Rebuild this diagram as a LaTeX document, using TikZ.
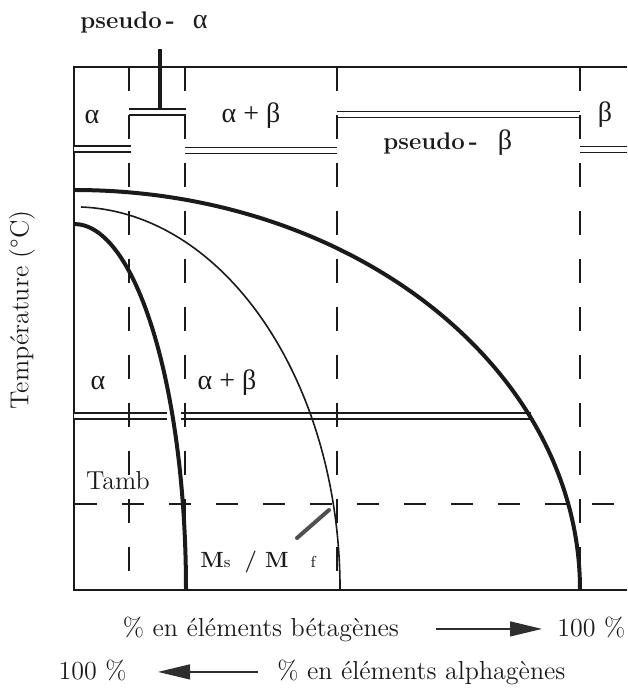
\documentclass[tikz,border=0pt]{standalone}
\usepackage{fontspec}
\newfontfamily\greekfont{Liberation Serif}
\usetikzlibrary{arrows.meta}
\definecolor{inkline}{HTML}{1A1A1A}
\definecolor{arrowink}{HTML}{2E2E2E}
\definecolor{leaderink}{HTML}{505050}
\tikzset{
  frame/.style={draw=inkline, line width=1.1pt},
  guide/.style={draw=inkline, line width=0.9pt, dash pattern=on 12pt off 12pt},
  tamb-line/.style={draw=inkline, line width=0.9pt, dash pattern=on 11pt off 12.5pt},
  phasebar/.style={draw=inkline, line width=0.7pt, double=white, double distance=2.3pt},
  mscurve/.style={draw=inkline, line width=2pt},
  mscurve-thin/.style={draw=inkline, line width=0.8pt},
  phasetext/.style={font=\fontsize{13}{15}\selectfont, inner sep=0pt, text=inkline},
  greektext/.style={font=\fontsize{14}{16}\selectfont\greekfont, inner sep=0pt, text=inkline},
  phasename/.style={phasetext, anchor=west},
  msname/.style={font=\fontsize{11}{13}\selectfont\bfseries, inner sep=0pt, anchor=base west, text=inkline},
  pointer/.style={draw=inkline, line width=1.6pt},
  leader/.style={draw=leaderink, line width=2pt, line cap=round},
  axisarrow/.style={-{Triangle[length=16pt, width=7.5pt]}, draw=arrowink, fill=arrowink, line width=0.6pt}
}

\begin{document}
\begin{tikzpicture}[x=0.5pt, y=-0.5pt]

\useasboundingbox (0,0) rectangle (627,688);

% frame and phase limits
\draw[frame] (627,67) -- (74,67) -- (74,590) -- (627,590);

\draw[phasebar] (74,149) -- (131,149);
\draw[phasebar] (129,112) -- (186,112);
\draw[phasebar] (185,150.5) -- (337,150.5);
\draw[phasebar] (337,114.5) -- (580,114.5);
\draw[phasebar] (580,149.5) -- (627,149.5);

\draw[phasebar] (74,416) -- (167,416);
\draw[phasebar] (181,416) -- (531,416);

\foreach \x in {129,185,337,580}
  \draw[guide] (\x,67) -- (\x,590);

\draw[tamb-line] (75,504) -- (627,504);

% Ms curves
\draw[mscurve] (74,190) arc[start angle=270, end angle=360, x radius=506, y radius=400];
\draw[mscurve-thin] (81,207) arc[start angle=271.5, end angle=360, x radius=266, y radius=383];
\draw[mscurve] (74,224) arc[start angle=270, end angle=360, x radius=112, y radius=366];

% labels
\node[phasename] (pseudoalpha) at (80,23) {{\fontsize{12}{14}\selectfont\bfseries pseudo\,-}\hspace{9pt}{\fontsize{14}{16}\greekfont α}};
\coordinate (pointertop) at (160,49);
\coordinate (pointerfoot) at (160,109);
\draw[pointer] (pointertop) -- (pointerfoot);

\node[greektext] (alphatop) at (92,117) {α};
\node[greektext] (twophasetop) at (251,116) {α + β};
\node[greektext] (betatop) at (605,115) {β};
\node[phasename] (pseudobeta) at (383,143) {{\fontsize{12}{14}\selectfont\bfseries pseudo\,-}\hspace{10pt}{\fontsize{14}{16}\greekfont β}};

\node[greektext] (alphalow) at (98,383) {α};
\node[greektext] (twophaselow) at (227,383) {α + β};
\node[phasetext] (tamb) at (118,481) {Tamb};

\node[msname] (msmf) at (200,567) {M{\fontsize{8}{9}\selectfont\mdseries s}\hspace{7pt}/ M\hspace{11pt}{\fontsize{8}{9}\selectfont\mdseries f}};
\coordinate (leaderfoot) at (297,538);
\coordinate (leadertip) at (329,510);
\draw[leader] (leaderfoot) -- (leadertip);

\node[phasetext, rotate=90] (templabel) at (22,310) {Température (\textdegree C)};

% composition axes
\node[phasetext, anchor=base] (betatext) at (261,636) {\% en éléments bétagènes};
\node[phasetext, anchor=base west] (pctright) at (557,636) {100 \%};
\node[phasetext, anchor=base east] (pctleft) at (127,679) {100 \%};
\node[phasetext, anchor=base west] (alphatext) at (277,679) {\% en éléments alphagènes};

\draw[axisarrow, shorten <=18.5pt, shorten >=7.5pt] (betatext.east) -- (betatext.east -| pctright.west);
\draw[axisarrow, shorten <=9.5pt, shorten >=15.5pt] (alphatext.west) -- (alphatext.west -| pctleft.east);

\end{tikzpicture}
\end{document}
